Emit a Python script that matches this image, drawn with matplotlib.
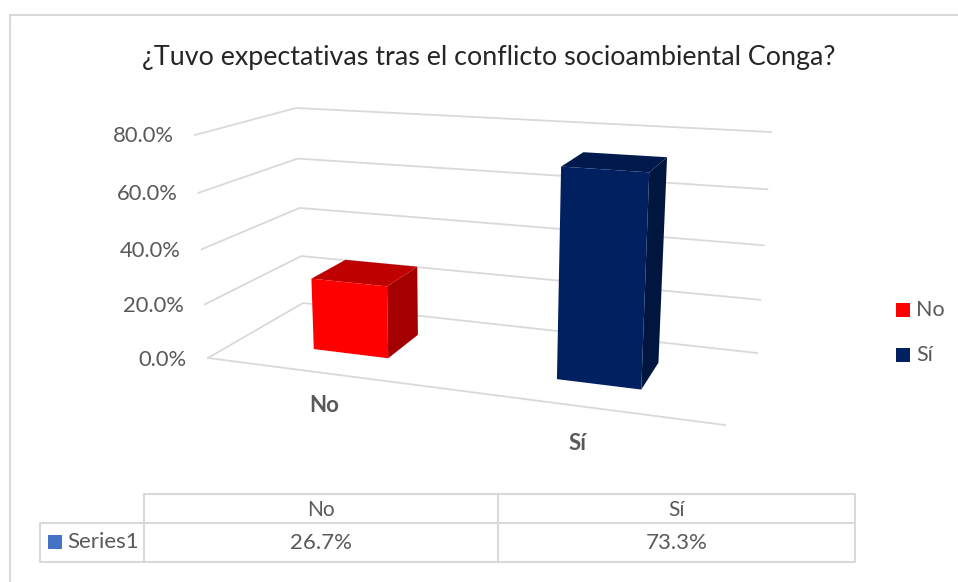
"""
Excel style 3D column chart with a data table, drawn on a pixel canvas.
"""

import matplotlib
matplotlib.use('Agg')
import matplotlib.pyplot as plt
from matplotlib.patches import Polygon, Rectangle

# Data
categories = ['No', 'Sí']
values = [26.7, 73.3]
table_labels = ['26.7%', '73.3%']
y_ticks = [0, 20, 40, 60, 80]
y_tick_labels = ['0.0%', '20.0%', '40.0%', '60.0%', '80.0%']
title = '¿Tuvo expectativas tras el conflicto socioambiental Conga?'
series_name = 'Series1'

WIDTH, HEIGHT = 958, 582
GRID = '#d9d9d9'
TEXT = '#595959'
FONT = 'Lato'

# Corners of the 3D plot box on the canvas: (left/right, front/back)
FLOOR = {'fl': (208, 358), 'fr': (725, 425), 'bl': (303, 303), 'br': (757, 353)}
CEIL = {'fl': (195, 135), 'fr': (738, 170), 'bl': (296, 108), 'br': (771, 132)}
Y_MAX = 80

# Bar footprints in box units (0..1 along the width and the depth)
bar_u = [(0.15, 0.30), (0.64, 0.81)]
bar_d = (0.33, 0.72)
bar_front = ['#ff0000', '#002060']
bar_top = ['#bf0000', '#001a4d']
bar_side = ['#a50000', '#00163f']


def project(u, d, value):
    """Map box coordinates (u, depth, value) to canvas pixels"""
    # small correction so the value axis foreshortens like a perspective view
    x = value / Y_MAX
    t = 0.95 * x + 0.05 * x * x
    point = []
    for i in range(2):
        low = ((1 - u) * (1 - d) * FLOOR['fl'][i] + u * (1 - d) * FLOOR['fr'][i]
               + (1 - u) * d * FLOOR['bl'][i] + u * d * FLOOR['br'][i])
        high = ((1 - u) * (1 - d) * CEIL['fl'][i] + u * (1 - d) * CEIL['fr'][i]
                + (1 - u) * d * CEIL['bl'][i] + u * d * CEIL['br'][i])
        point.append(low + (high - low) * t)
    return point


fig = plt.figure(figsize=(WIDTH / 100, HEIGHT / 100), dpi=100)
ax = fig.add_axes([0, 0, 1, 1])
ax.set_xlim(0, WIDTH)
ax.set_ylim(HEIGHT, 0)
ax.axis('off')

# Chart frame
ax.plot([10.5, 10.5, WIDTH], [HEIGHT, 14.5, 14.5], color=GRID, lw=1.5, zorder=1)

# Gridlines: side wall then back wall
for tick, label in zip(y_ticks, y_tick_labels):
    a = project(0, 0, tick)
    b = project(0, 1, tick)
    c = project(1, 1, tick)
    ax.plot([a[0], b[0], c[0]], [a[1], b[1], c[1]], color=GRID, lw=1.3, zorder=2)
    ax.text(a[0] - 21, a[1] + 1.5, label, ha='right', va='center',
            fontsize=15.8, color=TEXT, family=FONT)

# Front edge of the floor
a = project(0, 0, 0)
b = project(1, 0, 0)
ax.plot([a[0], b[0]], [a[1], b[1]], color=GRID, lw=1.3, zorder=2)

# Bars
for i, value in enumerate(values):
    u0, u1 = bar_u[i]
    d0, d1 = bar_d
    front = [project(u0, d0, 0), project(u1, d0, 0), project(u1, d0, value), project(u0, d0, value)]
    top = [project(u0, d0, value), project(u1, d0, value), project(u1, d1, value), project(u0, d1, value)]
    side = [project(u1, d0, 0), project(u1, d1, 0), project(u1, d1, value), project(u1, d0, value)]
    ax.add_patch(Polygon(side, closed=True, fc=bar_side[i], ec='none', zorder=3))
    ax.add_patch(Polygon(top, closed=True, fc=bar_top[i], ec='none', zorder=3))
    ax.add_patch(Polygon(front, closed=True, fc=bar_front[i], ec='none', zorder=4))

# Category labels under the floor
cat_pos = [(324, 405.5), (578, 443.5)]
for name, (x, y) in zip(categories, cat_pos):
    ax.text(x, y, name, ha='center', va='center', fontsize=16, fontweight='bold',
            color=TEXT, family=FONT)

ax.text(488.5, 58, title, ha='center', va='center', fontsize=19.4, color='#262626', family=FONT)

# Legend
legend_y = [310, 355]
for i, name in enumerate(categories):
    ax.add_patch(Rectangle((896, legend_y[i] - 7), 14, 14, fc=bar_front[i], ec='none'))
    ax.text(916, legend_y[i], name, ha='left', va='center', fontsize=15.5, color=TEXT, family=FONT)

# Data table
col_x = [144, 498, 855]
row_y = [494, 522.5, 561.5]
table_left = 40
ax.plot([col_x[0], col_x[2], col_x[2], table_left, table_left, col_x[2]],
        [row_y[0], row_y[0], row_y[2], row_y[2], row_y[1], row_y[1]], color=GRID, lw=1.5)
for x in col_x[:2]:
    ax.plot([x, x], [row_y[0], row_y[2]], color=GRID, lw=1.5)
for i in range(2):
    cx = (col_x[i] + col_x[i + 1]) / 2
    ax.text(cx, 509.5, categories[i], ha='center', va='center', fontsize=15, color=TEXT, family=FONT)
    ax.text(cx, 543, table_labels[i], ha='center', va='center', fontsize=16, color=TEXT, family=FONT)
ax.add_patch(Rectangle((48, 535), 14, 14, fc='#4472c4', ec='none'))
ax.text(67, 542.5, series_name, ha='left', va='center', fontsize=16, color=TEXT, family=FONT)

fig.savefig('out.png', dpi=100)
plt.close(fig)
